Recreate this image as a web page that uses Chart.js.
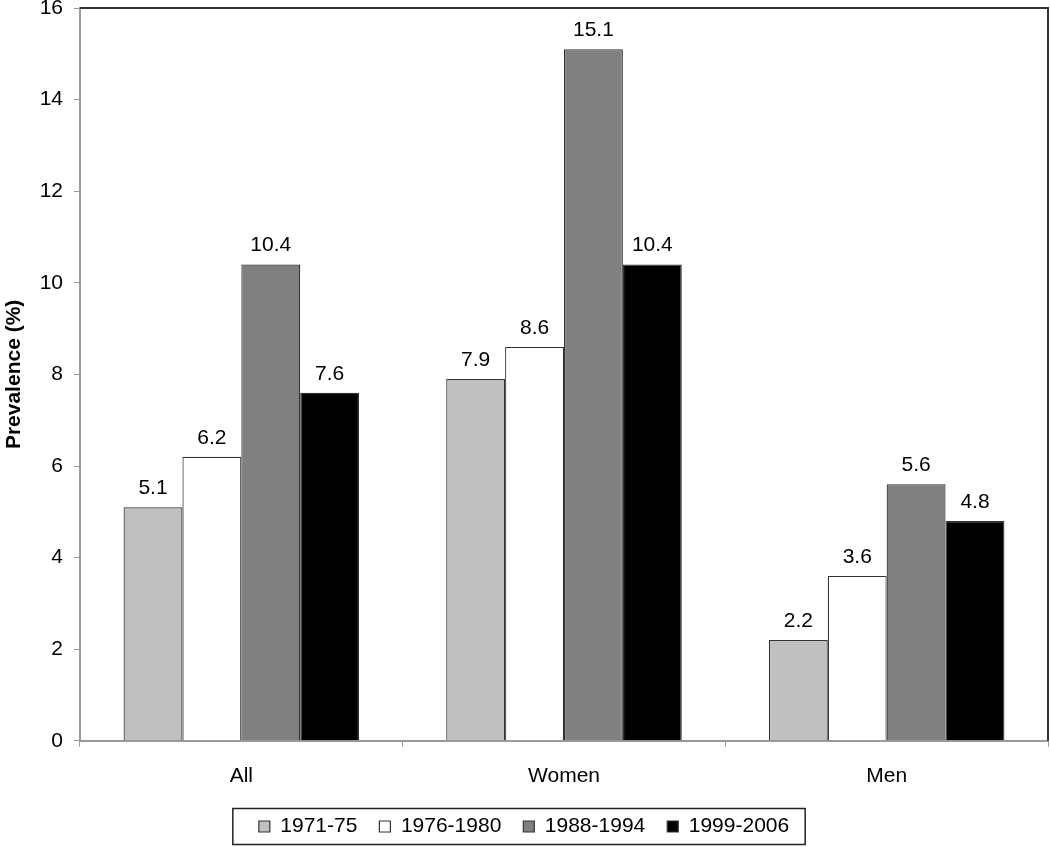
<!DOCTYPE html>
<html lang="en">
<head>
    <meta charset="UTF-8">
    <title>Prevalence by period</title>
    <style>
        body { margin: 0; background: #fff; }
        #wrap { width: 1050px; height: 847px; }
    </style>
    <script src="https://cdn.jsdelivr.net/npm/chart.js"></script>
</head>
<body>
    <div id="wrap"><canvas id="chart" width="1050" height="847"></canvas></div>

    <script>
        const groups = ['All', 'Women', 'Men'];
        const periods = ['1971-75', '1976-1980', '1988-1994', '1999-2006'];
        const v1971 = [5.1, 7.9, 2.2];
        const v1976 = [6.2, 8.6, 3.6];
        const v1988 = [10.4, 15.1, 5.6];
        const v1999 = [7.6, 10.4, 4.8];
        const fills = ['#c0c0c0', '#ffffff', '#808080', '#000000'];

        Chart.defaults.font.family = 'Arial, "Liberation Sans", sans-serif';
        Chart.defaults.color = '#000';

        // numbers above each bar
        const barLabels = {
            id: 'barLabels',
            afterDatasetsDraw(chart) {
                const ctx = chart.ctx;
                ctx.save();
                ctx.font = '21px Arial, "Liberation Sans", sans-serif';
                ctx.fillStyle = '#000';
                ctx.textAlign = 'center';
                ctx.textBaseline = 'alphabetic';
                chart.data.datasets.forEach((ds, i) => {
                    chart.getDatasetMeta(i).data.forEach((bar, j) => {
                        ctx.fillText(ds.data[j].toFixed(1), bar.x, bar.y - 13);
                    });
                });
                ctx.restore();
            }
        };

        // top/right frame of the plot and the box round the legend
        const frame = {
            id: 'frame',
            afterDraw(chart) {
                const ctx = chart.ctx;
                const a = chart.chartArea;
                ctx.save();
                ctx.strokeStyle = '#333';
                ctx.lineWidth = 2;
                ctx.beginPath();
                ctx.moveTo(a.left, a.top);
                ctx.lineTo(a.right, a.top);
                ctx.lineTo(a.right, a.bottom);
                ctx.stroke();

                const boxes = chart.legend.legendHitBoxes;
                if (boxes && boxes.length) {
                    let l = Infinity, r = -Infinity, t = Infinity, b = -Infinity;
                    boxes.forEach(h => {
                        l = Math.min(l, h.left); r = Math.max(r, h.left + h.width);
                        t = Math.min(t, h.top); b = Math.max(b, h.top + h.height);
                    });
                    const cy = (t + b) / 2;
                    ctx.strokeStyle = '#222';
                    ctx.lineWidth = 1.5;
                    ctx.strokeRect(l - 26, cy - 18, (r - l) + 42, 36);
                }
                ctx.restore();
            }
        };

        const ctx = document.getElementById('chart').getContext('2d');
        new Chart(ctx, {
            type: 'bar',
            data: {
                labels: groups,
                datasets: [v1971, v1976, v1988, v1999].map((d, i) => ({
                    label: periods[i],
                    data: d,
                    backgroundColor: fills[i],
                    borderColor: '#333',
                    borderWidth: 1.2,
                    categoryPercentage: 0.73,
                    barPercentage: 1.0
                }))
            },
            options: {
                responsive: false,
                animation: false,
                layout: { padding: { top: 0, right: 2, left: 0, bottom: 0 } },
                plugins: {
                    tooltip: { enabled: false },
                    legend: {
                        position: 'bottom',
                        labels: {
                            boxWidth: 11,
                            boxHeight: 11,
                            padding: 22,
                            color: '#000',
                            font: { size: 21 }
                        }
                    }
                },
                scales: {
                    x: {
                        grid: {
                            offset: true,
                            drawOnChartArea: false,
                            tickLength: 6,
                            color: '#999'
                        },
                        border: { color: '#999', width: 2 },
                        ticks: { font: { size: 21 }, color: '#000', padding: 17 },
                        afterFit(scale) { scale.height -= 12; }
                    },
                    y: {
                        min: 0,
                        max: 16,
                        ticks: { stepSize: 2, font: { size: 21 }, color: '#000', padding: 11 },
                        grid: {
                            drawOnChartArea: false,
                            tickLength: 6,
                            color: '#999'
                        },
                        border: { color: '#999', width: 2 },
                        title: {
                            display: true,
                            text: 'Prevalence (%)',
                            font: { size: 21, weight: 'bold' },
                            color: '#000',
                            padding: { top: 2, bottom: 10 }
                        },
                        afterFit(scale) {
                            scale.width = 80;
                            scale.paddingTop = 8;
                        }
                    }
                }
            },
            plugins: [barLabels, frame]
        });
    </script>
</body>
</html>
